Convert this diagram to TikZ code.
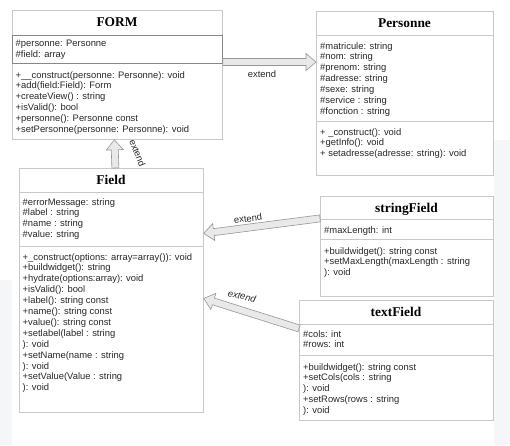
\documentclass[tikz,border=0pt]{standalone}
\usepackage{fontspec}
\setmainfont{Liberation Sans}
\newfontfamily\titleserif{Liberation Serif}
\usepackage{tikz}
\usetikzlibrary{calc}
\usetikzlibrary{positioning}

\definecolor{boxgray}{RGB}{200,200,200}
\definecolor{framegray}{RGB}{135,135,135}
\definecolor{textgray}{RGB}{40,40,40}
\definecolor{arrowfill}{RGB}{233,233,233}
\definecolor{arrowline}{RGB}{150,150,150}
\definecolor{pagegray}{RGB}{245,246,248}

\tikzset{
  classbox/.style={draw=boxgray, line width=0.8pt, fill=white, inner sep=0pt, anchor=north west},
  classname/.style={font=\titleserif\bfseries\fontsize{13.4}{15}\selectfont, anchor=base},
  member/.style={font=\fontsize{9.4}{11}\selectfont, text=textgray, anchor=base west, inner sep=0pt},
  divider/.style={draw=boxgray, line width=0.8pt},
  extarrow/.style={draw=arrowline, fill=arrowfill, line width=0.6pt, line join=miter},
  extlabel/.style={font=\fontsize{9.4}{11}\selectfont, text=textgray, inner sep=0pt}
}

% hollow block arrow from #1 to #2
\newcommand{\extendarrow}[2]{%
  \coordinate (hd) at ($(#2)!10pt!(#1)$);
  \draw[extarrow] ($(#1)!3.5pt!90:(#2)$) -- ($(hd)!3.5pt!90:(#2)$) -- ($(hd)!8.5pt!90:(#2)$)
    -- (#2) -- ($(hd)!8.5pt!-90:(#2)$) -- ($(hd)!3.5pt!-90:(#2)$) -- ($(#1)!3.5pt!-90:(#2)$) -- cycle;
}

\begin{document}
\begin{tikzpicture}[x=1pt, y=-1pt]
  \useasboundingbox[fill=white] (0,0) rectangle (510,445);
  \fill[pagegray] (494,140) rectangle (510,445);
  \fill[pagegray] (0,280) rectangle (12,445);

  % FORM
  \node[classbox, minimum width=210pt, minimum height=129pt] at (12,10) (form) {};
  \node[classname] at (117,26.5) (form-t) {FORM};
  \draw[draw=framegray, line width=0.9pt] (12,35) rectangle (222,63);
  \foreach \m [count=\i from 0] in {\#personne: Personne, \#field: array}
    \node[member] at (15.5,46.5+10.9*\i) (form-a\i) {\m};
  \foreach \m [count=\i from 0] in {+\_\_construct(personne: Personne): void, +add(field:Field): Form,
      +createView() : string, +isValid(): bool, +personne(): Personne const,
      +setPersonne(personne: Personne): void}
    \node[member] at (15.5,78+10.9*\i) (form-m\i) {\m};

  % Personne
  \node[classbox, minimum width=177pt, minimum height=164pt] at (316,11) (personne) {};
  \node[classname] at (404.5,27) (personne-t) {Personne};
  \draw[divider] (316,35) -- (493,35);
  \draw[divider] (316,121) -- (493,121);
  \foreach \m [count=\i from 0] in {\#matricule: string, \#nom: string, \#prenom: string,
      \#adresse: string, \#sexe: string, \#service : string, \#fonction : string}
    \node[member] at (320,49+10.9*\i) (personne-a\i) {\m};
  \foreach \m [count=\i from 0] in {+ \_construct(): void, +getInfo(): void,
      + setadresse(adresse: string): void}
    \node[member] at (320,135+10.9*\i) (personne-m\i) {\m};

  % Field
  \node[classbox, minimum width=184pt, minimum height=244pt] at (19,168) (field) {};
  \node[classname] at (111,184) (field-t) {Field};
  \draw[divider] (19,192) -- (203,192);
  \draw[divider] (19,246) -- (203,246);
  \foreach \m [count=\i from 0] in {\#errorMessage: string, \#label : string,
      \#name : string, \#value: string}
    \node[member] at (22.5,205+10.9*\i) (field-a\i) {\m};
  \foreach \m [count=\i from 0] in {+\_construct(options: array=array()): void,
      +buildwidget(): string, +hydrate(options:array): void, +isValid(): bool,
      +label(): string const, +name(): string const, +value(): string const,
      +setlabel(label : string, ): void, +setName(name : string, ): void,
      +setValue(Value : string, ): void}
    \node[member] at (22.5,260+10.9*\i) (field-m\i) {\m};

  % stringField
  \node[classbox, minimum width=173pt, minimum height=100pt] at (320,196) (sfield) {};
  \node[classname] at (406.5,212) (sfield-t) {stringField};
  \draw[divider] (320,219) -- (493,219);
  \draw[divider] (320,239) -- (493,239);
  \node[member] at (324,233) (sfield-a0) {\#maxLength: int};
  \foreach \m [count=\i from 0] in {+buildwidget(): string const,
      +setMaxLength(maxLength : string, ): void}
    \node[member] at (324,254+10.9*\i) (sfield-m\i) {\m};

  % textField
  \node[classbox, minimum width=194pt, minimum height=120pt] at (299,300) (tfield) {};
  \node[classname] at (396,316) (tfield-t) {textField};
  \draw[divider] (299,324) -- (493,324);
  \draw[divider] (299,355) -- (493,355);
  \foreach \m [count=\i from 0] in {\#cols: int, \#rows: int}
    \node[member] at (303,337+10.9*\i) (tfield-a\i) {\m};
  \foreach \m [count=\i from 0] in {+buildwidget(): string const, +setCols(cols : string,
      ): void, +setRows(rows : string, ): void}
    \node[member] at (303,370+10.9*\i) (tfield-m\i) {\m};

  % extend arrows
  \coordinate (form-out) at ([yshift=-52pt]form.north east);
  \coordinate (personne-in) at ([yshift=-51pt]personne.north west);
  \extendarrow{form-out}{personne-in}
  \node[extlabel] at (262,74.5) (ext1) {extend};

  \coordinate (field-out) at ([xshift=4pt]field.north);
  \coordinate (form-in) at ([xshift=-3pt]form.south);
  \extendarrow{field-out}{form-in}
  \node[extlabel, rotate=-68] at (137.5,153) (ext2) {extend};

  \coordinate (sfield-out) at ([yshift=28pt]sfield.west);
  \coordinate (field-in1) at ([yshift=57pt]field.east);
  \extendarrow{sfield-out}{field-in1}
  \node[extlabel, rotate=7] at (248,218.5) (ext3) {extend};

  \coordinate (tfield-out) at ([yshift=32pt]tfield.west);
  \coordinate (field-in2) at ([yshift=-8pt]field.east);
  \extendarrow{tfield-out}{field-in2}
  \node[extlabel, rotate=-13, font=\itshape\fontsize{9.4}{11}\selectfont] at (242,296) (ext4) {extend};
\end{tikzpicture}
\end{document}
